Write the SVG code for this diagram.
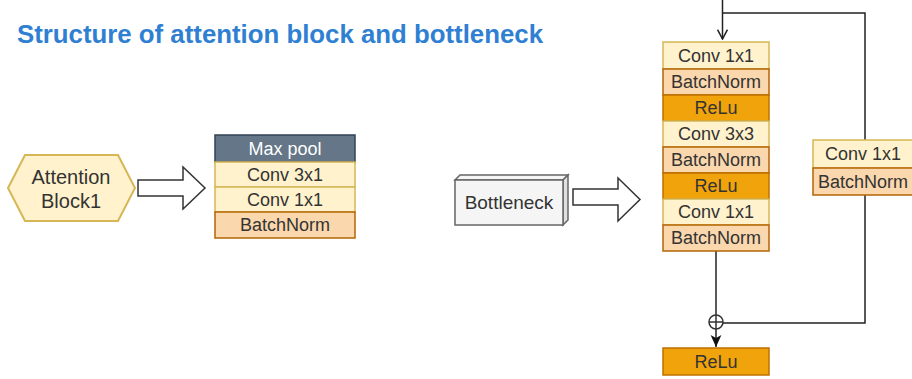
<svg xmlns="http://www.w3.org/2000/svg" width="912" height="379" viewBox="0 0 912 379">
<style>
text{font-family:"Liberation Sans",Arial,sans-serif;fill:#333;text-anchor:middle}
.lbl{font-size:18px}
.conv{fill:#fff2cc;stroke:#d6b656;stroke-width:1.5}
.bn{fill:#fad7ac;stroke:#b46504;stroke-width:1.5}
.relu{fill:#f0a30a;stroke:#bd7000;stroke-width:1.5}
.mp{fill:#647687;stroke:#314354;stroke-width:1.5}
.barrow{fill:#fff;stroke:#333;stroke-width:1.5}
.ln{fill:none;stroke:#222;stroke-width:1.5}
</style>
<defs>
<marker id="open" viewBox="0 0 10 10" markerWidth="11" markerHeight="11" refX="9.5" refY="5" orient="auto" markerUnits="userSpaceOnUse">
<path d="M1,0.5 L9.5,5 L1,9.5" fill="none" stroke="#222" stroke-width="1.4"/>
</marker>
<marker id="filled" viewBox="0 0 10 10" markerWidth="12" markerHeight="12" refX="10" refY="5" orient="auto" markerUnits="userSpaceOnUse">
<path d="M0,0.5 L10,5 L0,9.5 L2.5,5 Z" fill="#111"/>
</marker>
</defs>
<text x="17" y="43" style="font-size:25.8px;font-weight:bold;fill:#2f7fd3;text-anchor:start">Structure of attention block and bottleneck</text>

<g id="attention">
<polygon points="8,188 25,155 118,155 135,188 118,221 25,221" fill="#fff2cc" stroke="#d6b656" stroke-width="2"/>
<text x="71" y="184" style="font-size:20px">Attention</text>
<text x="71" y="208" style="font-size:20px">Block1</text>
</g>
<g id="arrow1">
<polygon class="barrow" points="138,180 183,180 183,167 205,188 183,209 183,196 138,196"/>
</g>
<g id="stack1">
<rect class="mp" x="215" y="135" width="140" height="27"/>
<text class="lbl" x="285" y="155" style="fill:#fff">Max pool</text>
<rect class="conv" x="215" y="162" width="140" height="25"/>
<text class="lbl" x="285" y="181">Conv 3x1</text>
<rect class="conv" x="215" y="187" width="140" height="25"/>
<text class="lbl" x="285" y="206">Conv 1x1</text>
<rect class="bn" x="215" y="212" width="140" height="26"/>
<text class="lbl" x="285" y="231">BatchNorm</text>
</g>
<g id="bottleneck">
<polygon points="455,180 460,175 568,175 563,180" fill="#f5f5f5" stroke="#666" stroke-width="1.5"/>
<polygon points="563,180 568,175 568,220 563,225" fill="#e0e0e0" stroke="#666" stroke-width="1.5"/>
<rect x="455" y="180" width="108" height="45" fill="#f5f5f5" stroke="#666" stroke-width="1.5"/>
<text x="509" y="209" style="font-size:19px">Bottleneck</text>
</g>
<g id="arrow2">
<polygon class="barrow" points="573,189 618,189 618,178 640,199.5 618,221 618,205 573,205"/>
</g>
<g id="connectors">
<path class="ln" d="M722.5,0 V39" marker-end="url(#open)"/>
<path class="ln" d="M722.5,13 H865 V323 H723"/>
<path class="ln" d="M716,251 V315"/>
<path class="ln" d="M716,329 V347" marker-end="url(#filled)"/>
</g>
<g id="add">
<circle cx="716" cy="322" r="7" fill="#fff" stroke="#333" stroke-width="1.5"/>
<path d="M709,322 H723 M716,315 V329" stroke="#333" stroke-width="1.5"/>
</g>
<g id="stack2">
<rect class="conv" x="663" y="42" width="106" height="27"/>
<text class="lbl" x="716" y="62">Conv 1x1</text>
<rect class="bn" x="663" y="69" width="106" height="26"/>
<text class="lbl" x="716" y="88">BatchNorm</text>
<rect class="relu" x="663" y="95" width="106" height="26"/>
<text class="lbl" x="716" y="114">ReLu</text>
<rect class="conv" x="663" y="121" width="106" height="26"/>
<text class="lbl" x="716" y="140">Conv 3x3</text>
<rect class="bn" x="663" y="147" width="106" height="26"/>
<text class="lbl" x="716" y="166">BatchNorm</text>
<rect class="relu" x="663" y="173" width="106" height="26"/>
<text class="lbl" x="716" y="192">ReLu</text>
<rect class="conv" x="663" y="199" width="106" height="26"/>
<text class="lbl" x="716" y="218">Conv 1x1</text>
<rect class="bn" x="663" y="225" width="106" height="26"/>
<text class="lbl" x="716" y="244">BatchNorm</text>
</g>
<g id="shortcut">
<rect class="conv" x="813" y="140" width="100" height="28"/>
<text class="lbl" x="863" y="160">Conv 1x1</text>
<rect class="bn" x="813" y="168" width="100" height="27"/>
<text class="lbl" x="863" y="188">BatchNorm</text>
</g>
<g id="relu-out">
<rect class="relu" x="663" y="348" width="106" height="27"/>
<text class="lbl" x="716" y="368">ReLu</text>
</g>
</svg>
